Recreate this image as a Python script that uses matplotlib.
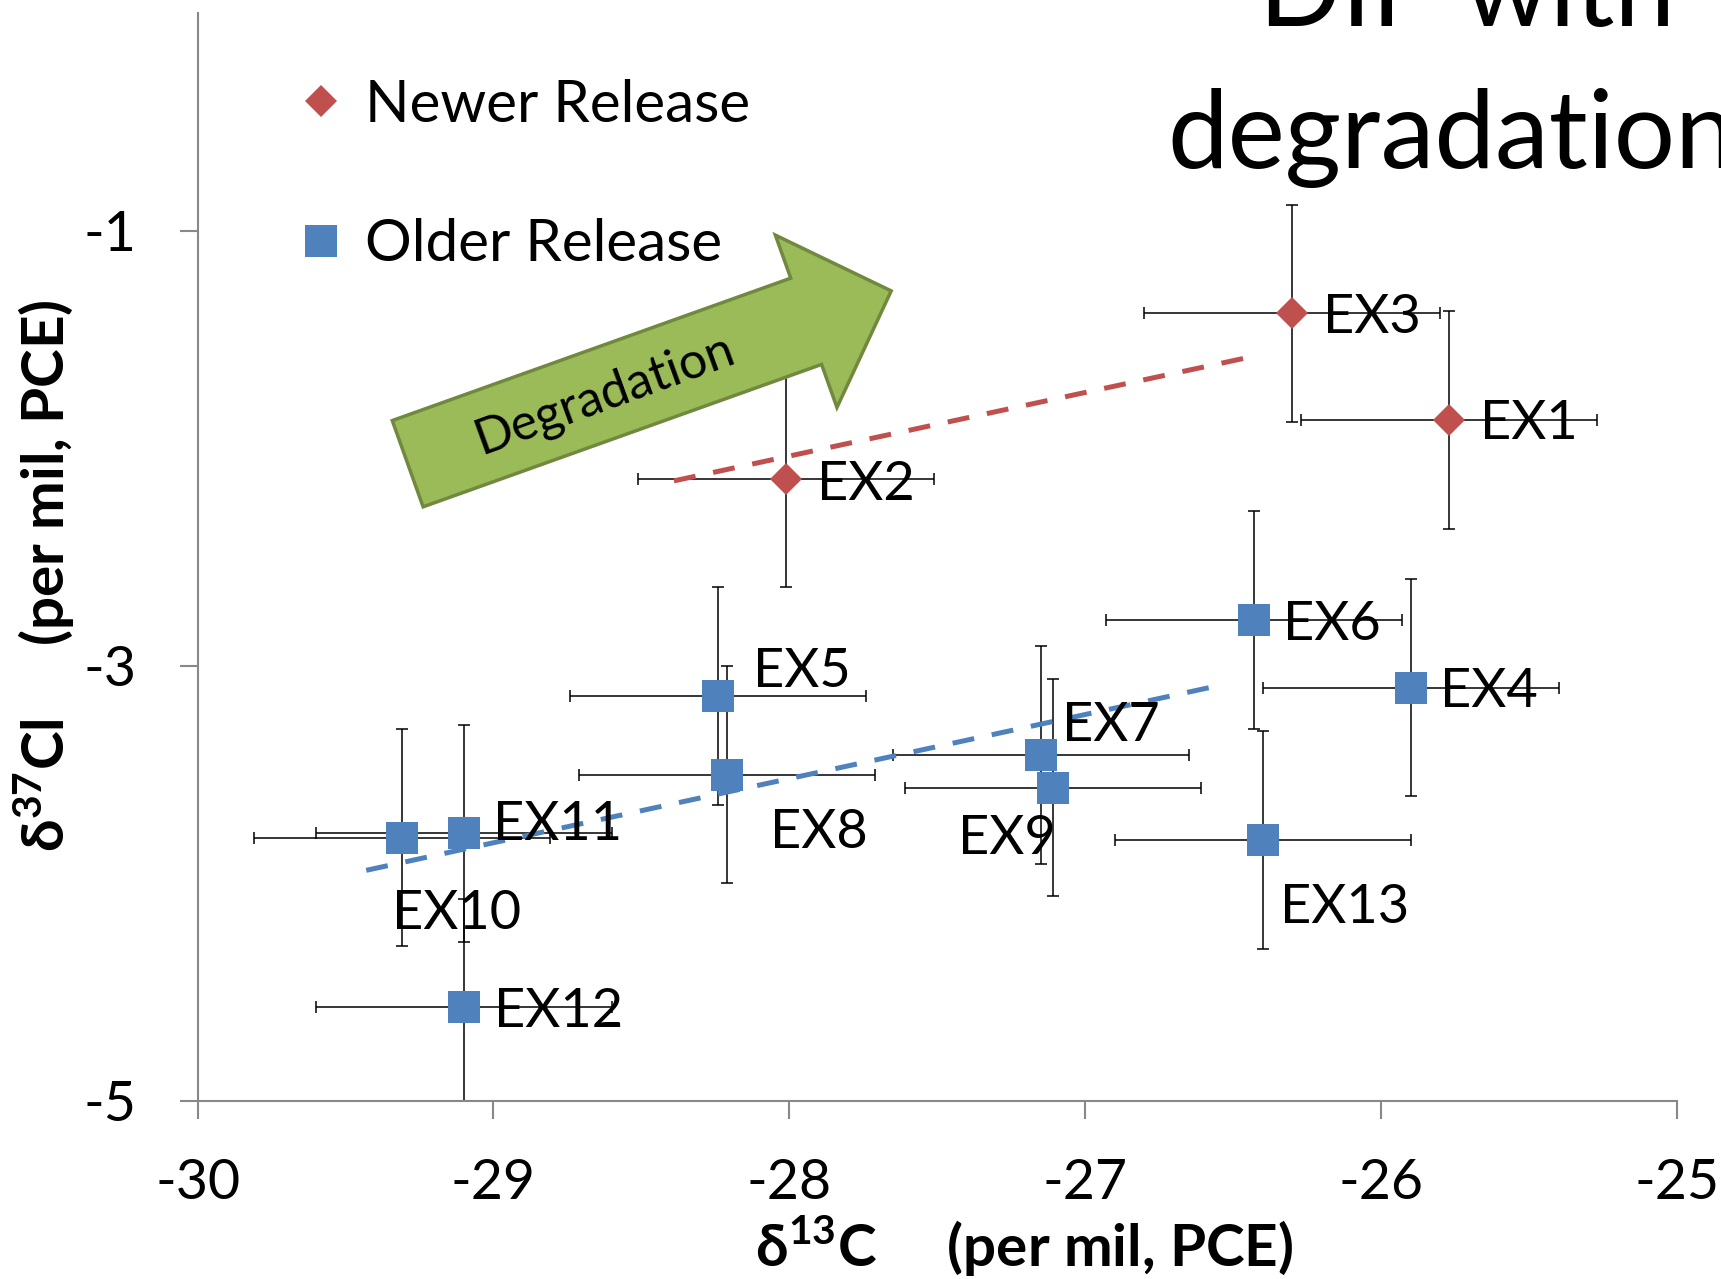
import matplotlib
matplotlib.use("Agg")
import matplotlib.pyplot as plt
from matplotlib.lines import Line2D
from matplotlib.patches import FancyArrow

plt.rcParams['font.family'] = ['Lato', 'Noto Sans', 'DejaVu Sans']
plt.rcParams['axes.unicode_minus'] = False
plt.rcParams['mathtext.fontset'] = 'custom'
plt.rcParams['mathtext.rm'] = 'Lato'
plt.rcParams['mathtext.bf'] = 'Lato:bold'
plt.rcParams['mathtext.fallback'] = 'stixsans'

# Newer release samples
new_names = ["EX1", "EX2", "EX3"]
new_c13 = [-25.77, -28.01, -26.30]
new_cl37 = [-1.87, -2.14, -1.38]

# Older release samples
old_names = ["EX4", "EX5", "EX6", "EX7", "EX8", "EX9", "EX10", "EX11", "EX12", "EX13"]
old_c13 = [-25.90, -28.24, -26.43, -27.15, -28.21, -27.11, -29.31, -29.10, -29.10, -26.40]
old_cl37 = [-3.10, -3.14, -2.79, -3.41, -3.50, -3.56, -3.79, -3.77, -4.57, -3.80]

# analytical uncertainty (per mil)
err_c13 = 0.5
err_cl37 = 0.5

# dashed trend lines
new_trend_x = [-28.39, -26.44]
new_trend_y = [-2.15, -1.58]
old_trend_x = [-29.43, -26.58]
old_trend_y = [-3.94, -3.10]

x_ticks = [-30, -29, -28, -27, -26, -25]
y_ticks = [-5, -3, -1]

red = '#C0504D'
blue = '#4F81BD'
grey = '#888888'

# label offsets in points (dx, dy, ha)
offsets = {
    "EX1": (22, -14, 'left'), "EX2": (22, -15, 'left'), "EX3": (22, -14, 'left'),
    "EX4": (21, -14, 'left'), "EX5": (25, 7, 'left'), "EX6": (21, -14, 'left'),
    "EX7": (15, 10, 'left'), "EX8": (31, -53, 'left'), "EX9": (2, -48, 'right'),
    "EX10": (-7, -66, 'left'), "EX11": (21, -5, 'left'), "EX12": (22, -14, 'left'),
    "EX13": (12, -60, 'left'),
}

fig = plt.figure(figsize=(17.21, 12.79), dpi=100)
ax = fig.add_axes([0.1148, 0.1392, 0.8597, 0.8506])

for xs, ys in [(new_c13, new_cl37), (old_c13, old_cl37)]:
    ax.errorbar(xs, ys, xerr=err_c13, yerr=err_cl37, fmt='none', ecolor='black',
                elinewidth=1.1, capsize=4, capthick=1.1, zorder=2)

ax.plot(new_trend_x, new_trend_y, color=red, lw=3.6, dashes=(4.4, 3.6), zorder=3)
ax.plot(old_trend_x, old_trend_y, color=blue, lw=3.6, dashes=(4.4, 3.6), zorder=3)

ax.plot(new_c13, new_cl37, ls='none', marker='D', ms=16.5, color=red, mew=0, zorder=4)
ax.plot(old_c13, old_cl37, ls='none', marker='s', ms=23.5, color=blue, mew=0, zorder=4)

for names, xs, ys in [(new_names, new_c13, new_cl37), (old_names, old_c13, old_cl37)]:
    for n, x, y in zip(names, xs, ys):
        dx, dy, ha = offsets[n]
        ax.annotate(n, (x, y), xytext=(dx, dy), textcoords='offset points',
                    ha=ha, va='baseline', fontsize=39, zorder=5)

ax.set_xlim(-30, -25)
ax.set_ylim(-5, 0)
ax.set_xticks(x_ticks)
ax.set_yticks(y_ticks)
ax.set_xticklabels([str(t) for t in x_ticks])
ax.set_yticklabels([str(t) for t in y_ticks])
ax.tick_params(direction='out', length=13, width=1.5, color=grey, labelsize=40)
ax.tick_params(axis='x', pad=28)
ax.tick_params(axis='y', pad=31)
for s in ['top', 'right']:
    ax.spines[s].set_visible(False)
for s in ['left', 'bottom']:
    ax.spines[s].set_color(grey)
    ax.spines[s].set_linewidth(1.5)

ax.set_xlabel(r"δ$^{\mathbf{13}}$C     (per mil, PCE)", fontsize=42, fontweight='bold')
ax.xaxis.set_label_coords(0.559, -0.133)
ax.xaxis.label.set_va('center')
ax.set_ylabel(r"δ$^{\mathbf{37}}$Cl     (per mil, PCE)", fontsize=42, fontweight='bold')
ax.yaxis.set_label_coords(-0.104, 0.4825)
ax.yaxis.label.set_va('center')

handles = [Line2D([], [], ls='none', marker='D', ms=16.5, color=red, mew=0),
           Line2D([], [], ls='none', marker='s', ms=23.5, color=blue, mew=0)]
ax.legend(handles, ["Newer Release", "Older Release"], loc='upper left',
          bbox_to_anchor=(0.1693, 0.9385), bbox_transform=fig.transFigure,
          frameon=False, fontsize=42, handlelength=1.0, handletextpad=0.27,
          labelspacing=1.48, borderpad=0, borderaxespad=0)

# big green arrow
arrow = FancyArrow(4.077, 8.153, 4.835, 1.728, width=0.916, head_width=1.83,
                   head_length=0.903, length_includes_head=True,
                   transform=fig.dpi_scale_trans, facecolor='#9BBB59',
                   edgecolor='#71893F', lw=2.5, zorder=6)
fig.add_artist(arrow)
fig.text(604.8 / 1721, 1 - 395 / 1279, "Degradation", rotation=20, ha='center',
         va='center', rotation_mode='anchor', fontsize=36, zorder=7)

# title, cut by the figure edges
fig.text(1259 / 1721, 1 - 26 / 1279, "DIP with", fontsize=78, ha='left', va='baseline')
fig.text(1167 / 1721, 1 - 168 / 1279, "degradation", fontsize=78, ha='left', va='baseline')

fig.savefig("out.png", dpi=100)
